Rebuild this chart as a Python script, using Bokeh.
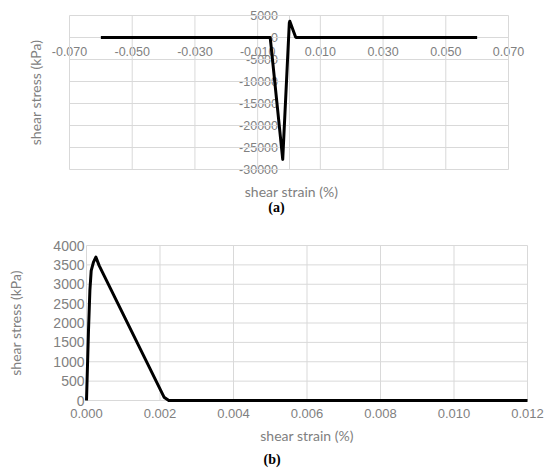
import math
from bokeh.plotting import figure
from bokeh.models import FixedTicker, NumeralTickFormatter, Label, Range1d
from bokeh.layouts import column
from bokeh.embed import file_html
from bokeh.resources import INLINE

# ---- data panel (a) ----
strain_a = [-0.06, -0.0060, -0.0057, -0.0020, 0.0001, 0.00026, 0.0021, 0.0023, 0.06]
stress_a = [0, 0, -2000, -27700, 3300, 3700, 90, 0, 0]
xticks_a = [-0.07, -0.05, -0.03, -0.01, 0.01, 0.03, 0.05, 0.07]
yticks_a = [5000, 0, -5000, -10000, -15000, -20000, -25000, -30000]

# ---- data panel (b) ----
strain_b = [0.0, 0.000054, 0.000092, 0.000128, 0.00019, 0.000255, 0.000345, 0.00211, 0.00224, 0.012]
stress_b = [0, 1800, 2840, 3350, 3570, 3700, 3480, 86, 0, 0]
xticks_b = [0.0, 0.002, 0.004, 0.006, 0.008, 0.010, 0.012]
yticks_b = [0, 500, 1000, 1500, 2000, 2500, 3000, 3500, 4000]

GRID = "#d9d9d9"
TICK = "#808080"
TFONT = "Liberation Sans"
AFONT = "Lato"


def extended_range(lo, hi, px_lo, px_hi, px_total, start_pad, end_pad):
    # data range whose [lo, hi] maps to pixels [px_lo, px_hi] in a frame of px_total
    scale = (hi - lo) / (px_hi - px_lo)
    return Range1d(lo - start_pad * scale, hi + end_pad * scale)


def make_fig(w, h, xr, yr):
    p = figure(width=w, height=h, x_range=xr, y_range=yr, output_backend="svg",
               toolbar_location=None, min_border=0, min_border_left=0, min_border_right=0,
               min_border_top=0, min_border_bottom=0)
    p.outline_line_color = None
    p.grid.visible = False
    return p


def style_axes(p, xfs, yfs):
    for ax, fs in ((p.xaxis, xfs), (p.yaxis, yfs)):
        ax.major_tick_line_color = None
        ax.minor_tick_line_color = None
        ax.major_tick_out = 0
        ax.major_tick_in = 0
        ax.major_label_text_color = TICK
        ax.major_label_text_font = TFONT
        ax.major_label_text_font_size = fs
        ax.axis_line_color = GRID
        ax.level = "underlay"


def draw_grid(p, xt, yt):
    x0, x1 = min(xt), max(xt)
    y0, y1 = min(yt), max(yt)
    p.segment(x0=xt, x1=xt, y0=[y0] * len(xt), y1=[y1] * len(xt), line_color=GRID, line_width=1)
    p.segment(x0=[x0] * len(yt), x1=[x1] * len(yt), y0=yt, y1=yt, line_color=GRID, line_width=1)


# ---- panel (a): frame = whole figure, plot box at x 69..508, y 15..169 ----
WA, HA = 550, 222
xr_a = extended_range(-0.07, 0.07, 69, 508, WA, 69, WA - 508)
yr_a = extended_range(-30000, 5000, HA - 169, HA - 15, HA, HA - 169, 15)
p1 = make_fig(WA, HA, xr_a, yr_a)
draw_grid(p1, xticks_a, yticks_a)
style_axes(p1, "12.5px", "12.5px")
p1.xaxis.ticker = FixedTicker(ticks=xticks_a)
p1.yaxis.ticker = FixedTicker(ticks=yticks_a)
p1.xaxis.formatter = NumeralTickFormatter(format="0.000")
p1.yaxis.formatter = NumeralTickFormatter(format="0")
p1.xaxis.fixed_location = 0
p1.yaxis.fixed_location = 0
p1.xaxis.bounds = (min(xticks_a), max(xticks_a))
p1.yaxis.bounds = (min(yticks_a), max(yticks_a))
p1.xaxis.major_label_standoff = 9
p1.yaxis.major_label_standoff = 11
p1.line(strain_a, stress_a, line_color="black", line_width=3, line_join="round")

p1.add_layout(Label(x=-0.07, y=-12500, x_offset=-34, angle=math.pi / 2, text="shear stress (kPa)",
                    text_align="center", text_baseline="middle", text_color=TICK,
                    text_font=AFONT, text_font_size="14px"))
p1.add_layout(Label(x=0, y=-30000, x_offset=2.5, y_offset=-22, text="shear strain (%)",
                    text_align="center", text_baseline="middle", text_color=TICK,
                    text_font=AFONT, text_font_size="14px"))
p1.add_layout(Label(x=0, y=-30000, x_offset=-12.5, y_offset=-37.5, text="(a)",
                    text_align="center", text_baseline="middle", text_color="black",
                    text_font="Liberation Serif", text_font_style="bold", text_font_size="14px"))

# ---- panel (b): figure spans y 222..470; plot box at x 86..527, y 245..400 ----
WB, HB = 550, 248
xr_b = extended_range(0.0, 0.012, 86, 527, WB, 86, WB - 527)
yr_b = extended_range(0, 4000, 470 - 400, 470 - 245, HB, 470 - 400, 245 - 222)
p2 = make_fig(WB, HB, xr_b, yr_b)
draw_grid(p2, xticks_b, yticks_b)
style_axes(p2, "13px", "14px")
p2.xaxis.ticker = FixedTicker(ticks=xticks_b)
p2.yaxis.ticker = FixedTicker(ticks=yticks_b)
p2.xaxis.formatter = NumeralTickFormatter(format="0.000")
p2.yaxis.formatter = NumeralTickFormatter(format="0")
p2.xaxis.fixed_location = 0
p2.yaxis.fixed_location = 0
p2.xaxis.bounds = (min(xticks_b), max(xticks_b))
p2.yaxis.bounds = (min(yticks_b), max(yticks_b))
p2.xaxis.major_label_standoff = 8
p2.yaxis.major_label_standoff = 2
p2.yaxis.axis_line_color = None
p2.line(strain_b, stress_b, line_color="black", line_width=3, line_join="round")

p2.add_layout(Label(x=0, y=2000, x_offset=-71, angle=math.pi / 2, text="shear stress (kPa)",
                    text_align="center", text_baseline="middle", text_color=TICK,
                    text_font=AFONT, text_font_size="14px"))
p2.add_layout(Label(x=0.006, y=0, y_offset=-35, text="shear strain (%)",
                    text_align="center", text_baseline="middle", text_color=TICK,
                    text_font=AFONT, text_font_size="14px"))
p2.add_layout(Label(x=0.00505, y=0, y_offset=-59, text="(b)",
                    text_align="center", text_baseline="middle", text_color="black",
                    text_font="Liberation Serif", text_font_style="bold", text_font_size="14px"))

layout = column(p1, p2)
open("out.html", "w").write(file_html(layout, INLINE))
